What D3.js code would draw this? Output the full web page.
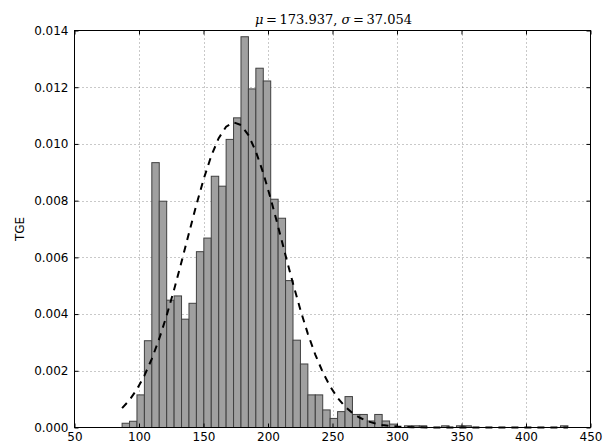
<!DOCTYPE html>
<html lang="en">
  <head>
    <title>TGE histogram</title>
    <meta charset="utf-8">
    <style>
      body { margin: 0; background: #fff; }
      text { font-family: "DejaVu Sans", sans-serif; }
    </style>
  </head>
  <body>
<svg width="603" height="443"></svg>
<script src="https://d3js.org/d3.v7.min.js"></script>
<script>

var edges = [86.90, 92.66, 98.42, 104.18, 109.94, 115.70, 121.46, 127.22, 132.98, 138.74,
  144.50, 150.26, 156.02, 161.78, 167.54, 173.30, 179.06, 184.82, 190.58, 196.34,
  202.10, 207.86, 213.62, 219.38, 225.14, 230.90, 236.66, 242.42, 248.18, 253.94,
  259.70, 265.46, 271.22, 276.98, 282.74, 288.50, 294.26, 300.02, 305.78, 311.54,
  317.30, 323.06, 328.82, 334.58, 340.34, 346.10, 351.86, 357.62, 363.38, 369.14,
  374.90, 380.66, 386.42, 392.18, 397.94, 403.70, 409.46, 415.22, 420.98, 426.74, 432.50];

// density of each bin (60 bins)
var density = [0.00015, 0.00022, 0.00115, 0.00306, 0.00934, 0.00798, 0.00449, 0.00464, 0.00382, 0.00438,
  0.00620, 0.00668, 0.00886, 0.00851, 0.01016, 0.01092, 0.01378, 0.01194, 0.01267, 0.01222,
  0.00805, 0.00738, 0.00518, 0.00308, 0.00224, 0.00115, 0.00115, 0.00062, 0.00032, 0.00056,
  0.00109, 0.00046, 0.00046, 0.00023, 0.00046, 0.00023, 0.00012, 0, 0.00006, 0.00006,
  0.00006, 0, 0, 0.00006, 0, 0.00006, 0.00006, 0, 0, 0,
  0, 0, 0, 0, 0, 0, 0, 0, 0, 0.00006];

// fitted normal curve, value at each bin edge
var fitCurve = [0.000683, 0.000971, 0.001349, 0.001830, 0.002423, 0.003131, 0.003950, 0.004863, 0.005845, 0.006857,
  0.007853, 0.008778, 0.009579, 0.010203, 0.010608, 0.010765, 0.010665, 0.010313, 0.009734, 0.008969,
  0.008067, 0.007082, 0.006068, 0.005077, 0.004145, 0.003303, 0.002570, 0.001952, 0.001447, 0.001047,
  0.000740, 0.000510, 0.000343, 0.000225, 0.000145, 0.000090, 0.000055, 0.000033, 0.000019, 0.000011,
  0.000006, 0.000003, 0.000002, 0, 0, 0, 0, 0, 0, 0,
  0, 0, 0, 0, 0, 0, 0, 0, 0, 0, 0];

var xTicks = [50, 100, 150, 200, 250, 300, 350, 400, 450];
var yTicks = [0, 0.002, 0.004, 0.006, 0.008, 0.010, 0.012, 0.014];

var svg = d3.select("svg"),
    plotL = 74.5, plotR = 590.5, plotT = 30.5, plotB = 427.5;

var x = d3.scaleLinear().domain([50, 450]).range([plotL, plotR]);
var y = d3.scaleLinear().domain([0, 0.014]).range([plotB, plotT]);

// grid
var grid = svg.append("g").attr("stroke", "#000").attr("stroke-width", 0.6)
    .attr("stroke-dasharray", "1,3").attr("opacity", 0.7);
xTicks.slice(1, -1).forEach(function(t) {
  grid.append("line").attr("x1", Math.round(x(t)) + 0.5).attr("x2", Math.round(x(t)) + 0.5)
      .attr("y1", plotT).attr("y2", plotB);
});
yTicks.slice(1, -1).forEach(function(t) {
  grid.append("line").attr("y1", Math.round(y(t)) + 0.5).attr("y2", Math.round(y(t)) + 0.5)
      .attr("x1", plotL).attr("x2", plotR);
});

// bars
svg.append("g").selectAll("rect").data(density).enter().append("rect")
    .attr("x", function(d, i) { return x(edges[i]); })
    .attr("width", function(d, i) { return x(edges[i + 1]) - x(edges[i]); })
    .attr("y", function(d) { return y(d); })
    .attr("height", function(d) { return y(0) - y(d); })
    .attr("fill", "#a0a0a0")
    .attr("stroke", "#404040")
    .attr("stroke-width", 1);

// fitted curve
var line = d3.line()
    .x(function(d, i) { return x(edges[i]); })
    .y(function(d) { return y(d); });
svg.append("path").datum(fitCurve)
    .attr("d", line)
    .attr("fill", "none")
    .attr("stroke", "#000")
    .attr("stroke-width", 2)
    .attr("stroke-dasharray", "7,6");

// frame
svg.append("rect").attr("x", plotL).attr("y", plotT)
    .attr("width", plotR - plotL).attr("height", plotB - plotT)
    .attr("fill", "none").attr("stroke", "#000").attr("stroke-width", 1);

// axes, ticks inward on all sides like classic matplotlib
var xAxis = d3.axisBottom(x).tickValues(xTicks).tickSize(-4).tickPadding(4.5).tickFormat(d3.format("d"));
var yAxis = d3.axisLeft(y).tickValues(yTicks).tickSize(-4).tickPadding(6).tickFormat(d3.format(".3f"));

svg.append("g").attr("transform", "translate(0," + plotB + ")").call(xAxis);
svg.append("g").attr("transform", "translate(" + plotL + ",0)").call(yAxis);
svg.append("g").attr("transform", "translate(0," + plotT + ")")
    .call(d3.axisTop(x).tickValues(xTicks).tickSize(-4).tickFormat(""));
svg.append("g").attr("transform", "translate(" + plotR + ",0)")
    .call(d3.axisRight(y).tickValues(yTicks).tickSize(-4).tickFormat(""));

svg.selectAll(".domain").remove();
svg.selectAll(".tick line").attr("stroke", "#000");
svg.selectAll(".tick text").attr("font-size", 12).attr("fill", "#000")
    .style("font-family", "'DejaVu Sans', sans-serif");

// y label
svg.append("text")
    .attr("transform", "translate(24," + ((plotT + plotB) / 2) + ") rotate(-90)")
    .attr("text-anchor", "middle")
    .attr("font-size", 12)
    .text("TGE");

// title
var title = svg.append("text")
    .attr("x", (plotL + plotR) / 2 + 1).attr("y", 24)
    .attr("text-anchor", "middle")
    .style("font-family", "'DejaVu Serif', serif")
    .attr("font-size", 13);
title.append("tspan").attr("font-style", "italic").text("\u03bc");
title.append("tspan").text("\u2009=\u2009173.937, ");
title.append("tspan").attr("font-style", "italic").text("\u03c3");
title.append("tspan").text("\u2009=\u200937.054");

</script>
  </body>
</html>
